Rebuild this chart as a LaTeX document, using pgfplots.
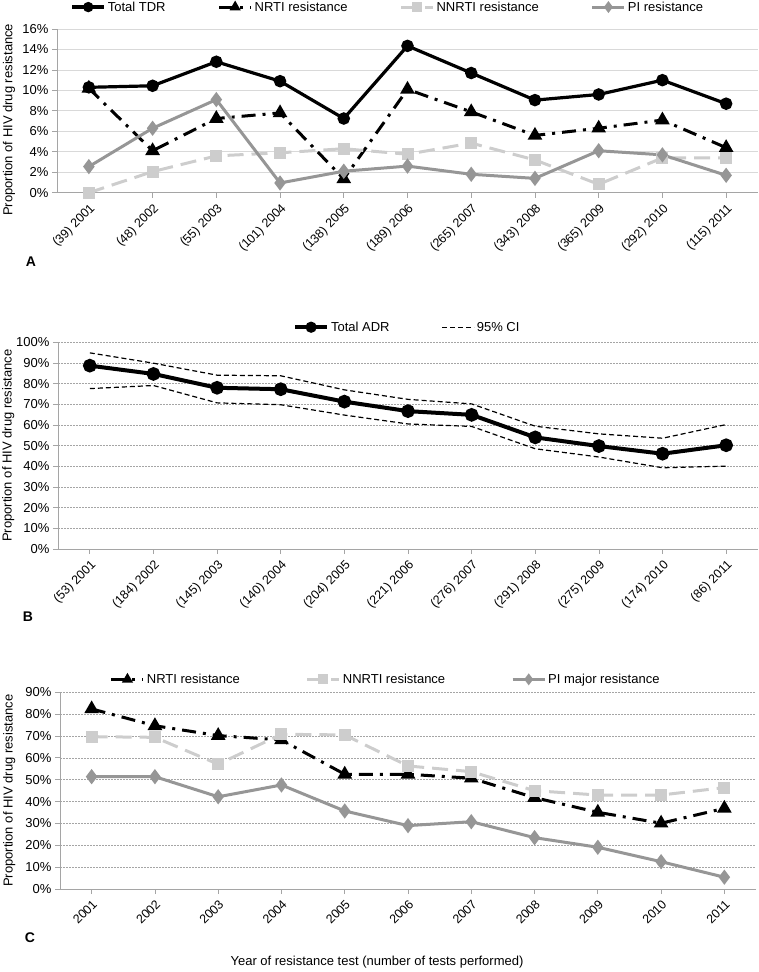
\documentclass[border=0pt]{standalone}
\usepackage{pgfplots}
\pgfplotsset{compat=1.18}
\usepackage{fontspec}
\setmainfont{Liberation Sans}
\definecolor{nnrti}{RGB}{205,205,205}
\definecolor{pigray}{RGB}{150,150,150}
\definecolor{axgray}{RGB}{165,165,165}
\definecolor{gridA}{RGB}{217,217,217}
\definecolor{gridB}{RGB}{165,165,165}
\pgfplotsset{
  base/.style={
    scale only axis, anchor=south west, clip=false,
    xmin=-0.5, xmax=10.5, xtick={0,...,10},
    axis x line*=bottom, axis y line*=left,
    axis line style={axgray, line width=0.8pt, -},
    tick style={axgray, line width=0.8pt},
    major tick length=5pt, tick align=outside,
    ymajorgrids,
    font=\fontsize{13}{15}\selectfont,
    /pgf/number format/assume math mode=true,
    yticklabel={\pgfmathprintnumber{\tick}\%},
    xticklabel style={rotate=45, anchor=north east, font=\fontsize{12.5}{14}\selectfont},
    yticklabel style={font=\fontsize{13}{15}\selectfont},
    legend style={draw=none, fill=none, legend columns=-1, anchor=center,
      font=\fontsize{13}{15}\selectfont},
    legend cell align=left,
    legend image code/.code={\draw[mark repeat=2,mark phase=2,##1,mark size=3.5pt] plot coordinates {(0pt,0pt) (16pt,0pt) (32pt,0pt)};},
  },
  tdr/.style={black, line width=3.2pt, mark=*, mark size=4.6pt, mark options={solid}},
  nrti/.style={black, line width=3pt, dash pattern=on 14pt off 7pt on 3pt off 7pt, mark=triangle*, mark size=5.5pt, mark options={solid}},
  nnrtis/.style={nnrti, line width=3pt, dash pattern=on 16pt off 8pt, mark=square*, mark size=4.5pt, mark options={solid}},
  pis/.style={pigray, line width=3pt, mark=diamond*, mark size=5.2pt, mark options={solid}},
}
\begin{document}
\begin{tikzpicture}
\useasboundingbox (0pt,0pt) rectangle (759pt,-972pt);
% ---------- Panel A
\begin{axis}[base,
  at={(57pt,-192.7pt)}, width=701pt, height=163.7pt,
  ymin=0, ymax=16, ytick={0,2,...,16},
  grid style={gridA, line width=0.8pt},
  xticklabels={(39) 2001,(48) 2002,(55) 2003,(101) 2004,(138) 2005,(189) 2006,(265) 2007,(343) 2008,(365) 2009,(292) 2010,(115) 2011},
  ylabel={Proportion of HIV drug resistance},
  ylabel style={at={(axis description cs:-0.0685,0.445)}, anchor=center},
  legend style={at={(0.472,1.134)}, /tikz/every even column/.append style={column sep=50pt}},
]
\addplot[tdr] coordinates {(0,10.3)(1,10.45)(2,12.8)(3,10.9)(4,7.25)(5,14.35)(6,11.7)(7,9.05)(8,9.6)(9,11.0)(10,8.7)};
\addlegendentry{Total TDR}
\addplot[nrti] coordinates {(0,10.2)(1,4.1)(2,7.25)(3,7.8)(4,1.35)(5,10.1)(6,7.9)(7,5.6)(8,6.3)(9,7.1)(10,4.4)};
\addlegendentry{NRTI resistance}
\addplot[nnrtis] coordinates {(0,0)(1,2.06)(2,3.6)(3,3.9)(4,4.3)(5,3.76)(6,4.85)(7,3.2)(8,0.82)(9,3.4)(10,3.4)};
\addlegendentry{NNRTI resistance}
\addplot[pis] coordinates {(0,2.55)(1,6.3)(2,9.1)(3,0.95)(4,2.1)(5,2.6)(6,1.8)(7,1.4)(8,4.1)(9,3.7)(10,1.7)};
\addlegendentry{PI resistance}
\end{axis}
% ---------- Panel B
\begin{axis}[base,
  at={(58pt,-549pt)}, width=700pt, height=206.7pt,
  ymin=0, ymax=100, ytick={0,10,...,100},
  grid style={gridB, line width=0.6pt, dash pattern=on 2pt off 1pt},
  xticklabels={(53) 2001,(184) 2002,(145) 2003,(140) 2004,(204) 2005,(221) 2006,(276) 2007,(291) 2008,(275) 2009,(174) 2010,(86) 2011},
  ylabel={Proportion of HIV drug resistance},
  ylabel style={at={(axis description cs:-0.071,0.5)}, anchor=center},
  legend style={at={(0.499,1.073)}, /tikz/every even column/.append style={column sep=50pt}},
]
\addplot[black, line width=4pt, mark=*, mark size=4.8pt] coordinates {(0,88.7)(1,84.7)(2,78.0)(3,77.3)(4,71.3)(5,66.7)(6,64.9)(7,54.0)(8,49.8)(9,46.1)(10,50.2)};
\addlegendentry{Total ADR}
\addplot[black, line width=1.2pt, dash pattern=on 5pt off 3pt] coordinates {(0,94.9)(1,89.9)(2,84.1)(3,83.8)(4,77.0)(5,72.4)(6,70.2)(7,59.4)(8,55.7)(9,53.6)(10,60.2)};
\addlegendentry{95\% CI}
\addplot[black, line width=1.2pt, dash pattern=on 5pt off 3pt, forget plot] coordinates {(0,77.6)(1,79.1)(2,70.7)(3,69.8)(4,64.8)(5,60.5)(6,59.3)(7,48.5)(8,44.5)(9,39.3)(10,40.1)};
\end{axis}
% ---------- Panel C
\begin{axis}[base,
  at={(60pt,-889pt)}, width=696pt, height=196.7pt,
  ymin=0, ymax=90, ytick={0,10,...,90},
  grid style={gridB, line width=0.6pt, dash pattern=on 2pt off 1pt},
  xticklabels={2001,2002,2003,2004,2005,2006,2007,2008,2009,2010,2011},
  ylabel={Proportion of HIV drug resistance},
  ylabel style={at={(axis description cs:-0.073,0.5)}, anchor=center},
  legend style={at={(0.468,1.066)}, /tikz/every even column/.append style={column sep=64pt}},
]
\addplot[nrti] coordinates {(0,82.4)(1,74.7)(2,70.2)(3,68.2)(4,52.5)(5,52.5)(6,50.7)(7,41.8)(8,35.1)(9,30.1)(10,36.9)};
\addlegendentry{NRTI resistance}
\addplot[nnrtis] coordinates {(0,69.7)(1,69.4)(2,57.1)(3,70.8)(4,70.5)(5,56.3)(6,53.7)(7,45.0)(8,43.0)(9,43.0)(10,46.4)};
\addlegendentry{NNRTI resistance}
\addplot[pis] coordinates {(0,51.4)(1,51.4)(2,42.2)(3,47.6)(4,35.7)(5,29.0)(6,30.8)(7,23.5)(8,19.1)(9,12.5)(10,5.4)};
\addlegendentry{PI major resistance}
\end{axis}
\node[font=\fontsize{14}{16}\selectfont\bfseries] at (31pt,-262pt) {A};
\node[font=\fontsize{14}{16}\selectfont\bfseries] at (28pt,-617pt) {B};
\node[font=\fontsize{14}{16}\selectfont\bfseries] at (30pt,-938pt) {C};
\node[font=\fontsize{13}{15}\selectfont] at (377pt,-962pt) {Year of resistance test (number of tests performed)};
\end{tikzpicture}
\end{document}
